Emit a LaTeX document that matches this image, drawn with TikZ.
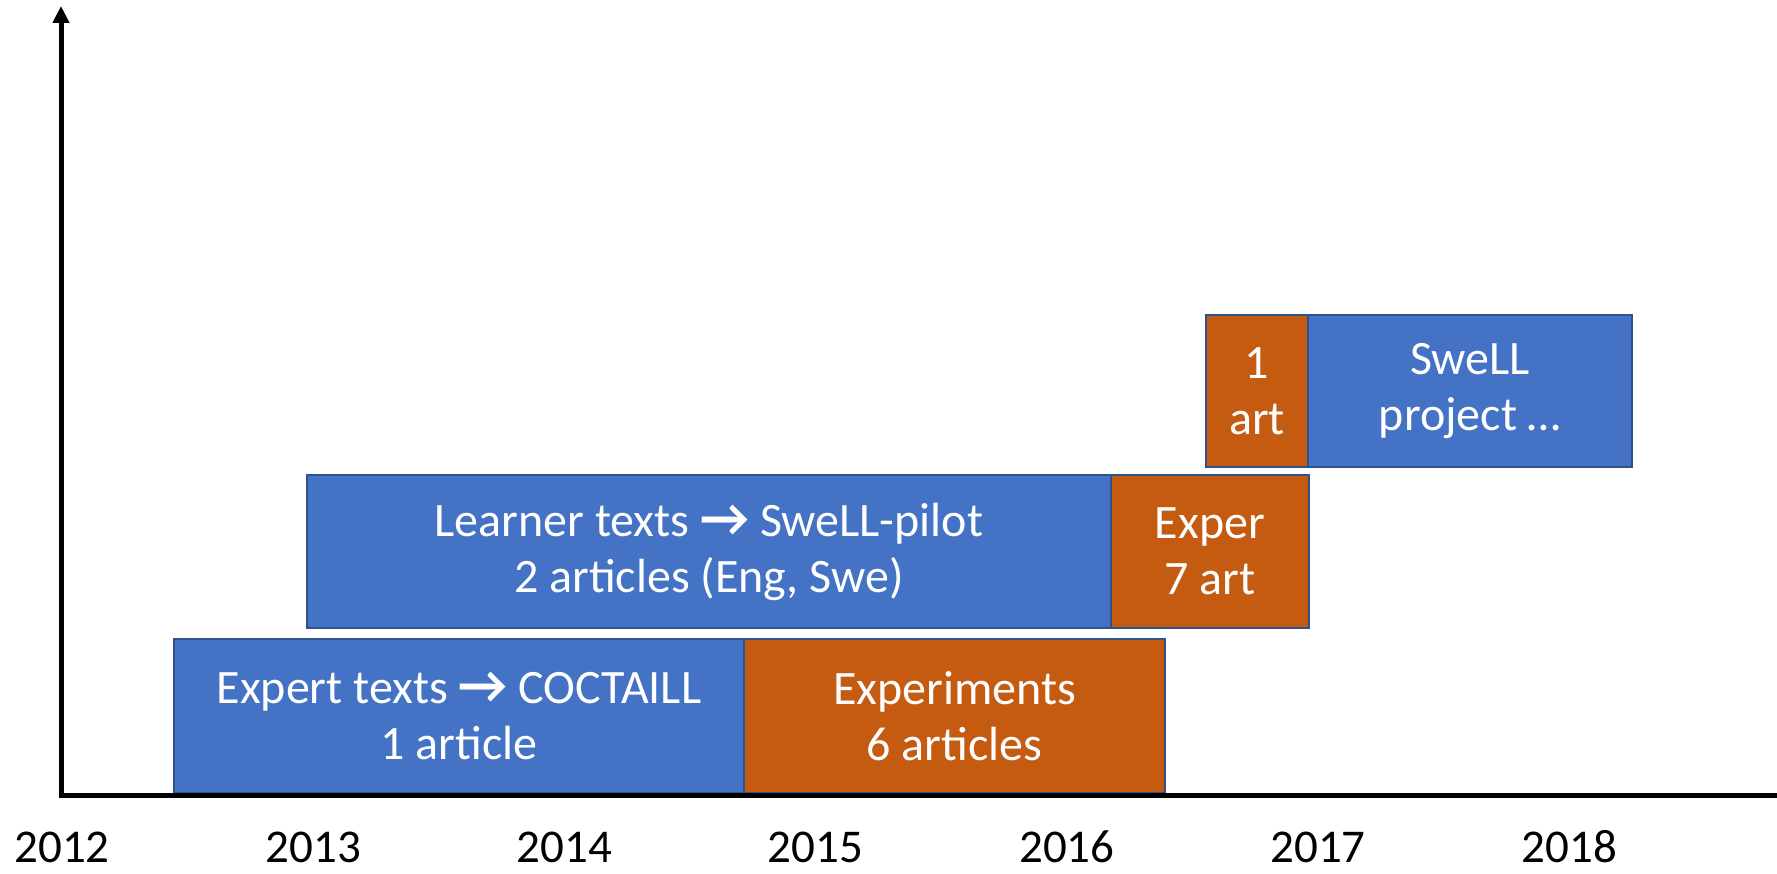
\documentclass[tikz,border=0pt]{standalone}
\usepackage{fontspec}
\setmainfont{Carlito}
\usetikzlibrary{arrows.meta}
\definecolor{boxblue}{HTML}{4472C4}
\definecolor{boxorange}{HTML}{C55A11}
\definecolor{edgeblue}{HTML}{2F528F}
\newcommand\myrarr{{\fontsize{54}{56}\selectfont\bfseries →}}
\tikzset{
  tbox/.style={rectangle, draw=edgeblue, line width=2pt, inner sep=0pt, anchor=north west,
    text=white, align=center, font=\fontsize{48}{56}\selectfont},
  bluebox/.style={tbox, fill=boxblue},
  orangebox/.style={tbox, fill=boxorange},
  axisline/.style={line width=5pt, black},
  yearlabel/.style={anchor=base, inner sep=0pt, font=\fontsize{47}{56}\selectfont}
}
\begin{document}
\begin{tikzpicture}[x=1pt,y=-1pt]
\useasboundingbox (0,0) rectangle (1777,874);
% boxes
\node[bluebox, minimum width=570pt, minimum height=154pt] (expert) at (173,638) {Expert texts \myrarr{} COCTAILL\\1 article};
\node[orangebox, minimum width=421pt, minimum height=154pt] (exp6) at (743,638) {Experiments\\6 articles};
\node[bluebox, minimum width=804pt, minimum height=153pt] (learner) at (306,474) {Learner texts \myrarr{} SweLL-pilot\\2 articles (Eng, Swe)};
\node[orangebox, minimum width=198pt, minimum height=153pt] (exp7) at (1110,474) {Exper\\7 art};
\node[orangebox, minimum width=102pt, minimum height=152pt] (art1) at (1205,314) {1\\art};
\node[bluebox, minimum width=324pt, minimum height=152pt] (swell) at (1307,314) {SweLL\\project …};
% axes
\coordinate (origin) at (61,795.5);
\coordinate (ytop) at (61,6);
\coordinate (xstart) at (58.5,795.5);
\coordinate (xend) at (1777,795.5);
\draw[axisline, -{Triangle[length=17pt,width=16pt]}] (origin) -- (ytop);
\draw[axisline] (xstart) -- (xend);
% years
\foreach \yr [count=\i from 0] in {2012,2013,2014,2015,2016,2017,2018} {
  \node[yearlabel] (y\yr) at ({62+251.2*\i},862) {\yr};
}
\end{tikzpicture}
\end{document}
